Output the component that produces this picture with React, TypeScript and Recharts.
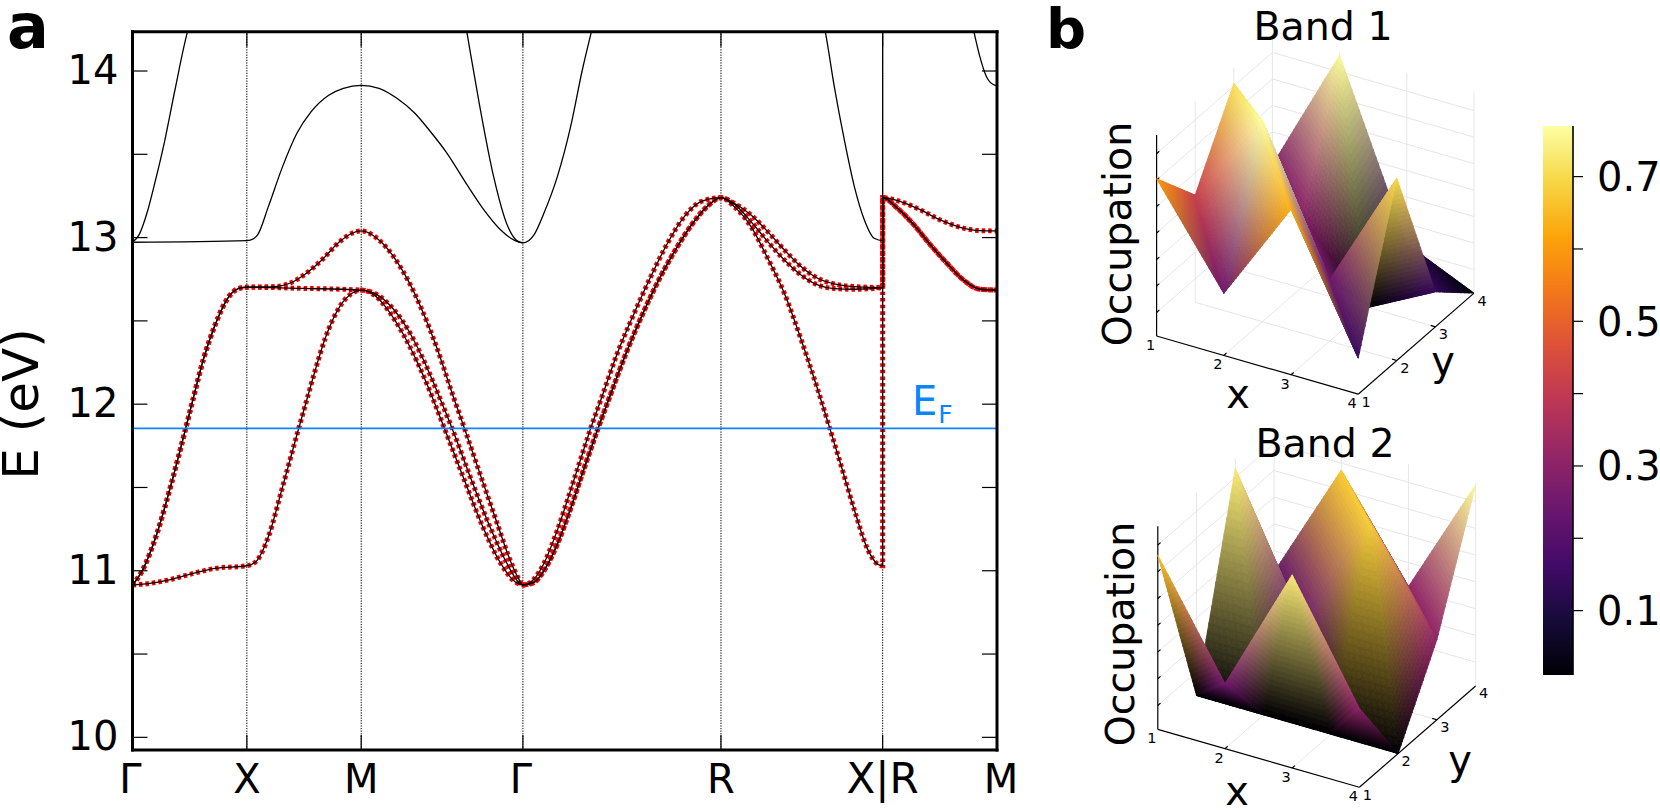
import React from "react";
import { ComposedChart, Line, Scatter, Bar, XAxis, YAxis, ReferenceLine } from "recharts";

const FONT = "'DejaVu Sans', sans-serif";
const BLUE = "#0a84ff";
const kNodes = [0, 1, 2, 3.414, 5.146, 6.56, 7.56];
const kLabels = ["Γ", "X", "M", "Γ", "R", "X|R", "M"];
const energyTicks = [10, 10.5, 11, 11.5, 12, 12.5, 13, 13.5, 14];
const fermiEnergy = 11.855;
const energyDomain = [9.924, 14.236];

const along = (seg: number, rows: number[][]) =>
  rows.map(([t, E]) => ({ k: kNodes[seg] + t * (kNodes[seg + 1] - kNodes[seg]), E }));

const gxLow = [[0, 10.914], [0.15, 10.924], [0.31, 10.944], [0.53, 10.984], [0.72, 11.014], [1, 11.03]];
const gxHigh = [[0, 10.914], [0.088, 11.004], [0.214, 11.224], [0.34, 11.524], [0.465, 11.854], [0.528, 12.026], [0.623, 12.276], [0.717, 12.466], [0.843, 12.646], [0.937, 12.696], [1, 12.702]];
const xmA = [[0.078, 11.054], [0.188, 11.204], [0.3125, 11.504], [0.453, 11.854], [0.53, 12.04], [0.594, 12.195], [0.6875, 12.4], [0.8125, 12.586], [0.92, 12.666], [1, 12.685]];
const xmB = [[0.5, 12.695], [1, 12.685]];
const xmC = [[0.25, 12.706], [0.375, 12.726], [0.5, 12.776], [0.656, 12.866], [0.8125, 12.976], [0.92, 13.026], [1, 13.04]];
const mgA = [[0.088, 12.65], [0.166, 12.565], [0.254, 12.43], [0.343, 12.26], [0.409, 12.115], [0.442, 12.036], [0.515, 11.854], [0.642, 11.534], [0.752, 11.264], [0.863, 11.044], [0.951, 10.934], [1, 10.915]];
const mgB = [[0.1, 12.656], [0.2, 12.57], [0.288, 12.45], [0.376, 12.285], [0.442, 12.14], [0.491, 12.025], [0.564, 11.85], [0.686, 11.534], [0.796, 11.264], [0.896, 11.054], [0.962, 10.944], [1, 10.915]];
const mgC = [[0.11, 12.986], [0.2, 12.886], [0.288, 12.746], [0.376, 12.566], [0.465, 12.346], [0.575, 12.03], [0.635, 11.865], [0.741, 11.564], [0.841, 11.284], [0.929, 11.044], [0.973, 10.954], [1, 10.915]];
const grLeft = [[0.056, 10.95], [0.106, 11.044], [0.174, 11.244], [0.241, 11.484], [0.309, 11.734], [0.342, 11.854], [0.393, 12.024], [0.477, 12.306], [0.562, 12.546], [0.646, 12.766], [0.73, 12.966], [0.815, 13.126], [0.899, 13.216], [1, 13.24]];
const grRight = [[0.056, 10.93], [0.106, 11.0], [0.174, 11.16], [0.241, 11.374], [0.309, 11.614], [0.379, 11.854], [0.435, 12.034], [0.519, 12.3], [0.604, 12.54], [0.688, 12.75], [0.772, 12.93], [0.857, 13.085], [0.933, 13.19], [1, 13.24]];
const rxA = [[0.082, 13.186], [0.186, 13.066], [0.289, 12.876], [0.392, 12.666], [0.495, 12.39], [0.598, 12.09], [0.67, 11.865], [0.742, 11.635], [0.825, 11.365], [0.907, 11.13], [0.969, 11.04], [1, 11.03]];
const rxB = [[0.082, 13.202], [0.186, 13.096], [0.289, 12.976], [0.392, 12.866], [0.495, 12.776], [0.598, 12.716], [0.701, 12.694], [0.825, 12.69], [1, 12.7]];
const rxC = [[0.082, 13.206], [0.186, 13.136], [0.289, 13.036], [0.392, 12.926], [0.495, 12.826], [0.598, 12.756], [0.701, 12.722], [0.825, 12.706], [1, 12.7]];
const rmLow = [[0, 13.24], [0.13, 13.176], [0.274, 13.076], [0.418, 12.956], [0.562, 12.846], [0.706, 12.746], [0.85, 12.69], [1, 12.685]];
const rmHigh = [[0, 13.24], [0.158, 13.216], [0.331, 13.166], [0.504, 13.106], [0.677, 13.062], [0.85, 13.042], [1, 13.04]];

const upperGX = [[0, 12.972], [1, 12.982]];
const upperXM = [[0.03, 12.985], [0.094, 13.016], [0.188, 13.186], [0.3125, 13.426], [0.4375, 13.626], [0.5625, 13.756], [0.719, 13.856], [0.844, 13.896], [1, 13.914]];
const upperMG = [[0.11, 13.896], [0.221, 13.836], [0.332, 13.746], [0.42, 13.646], [0.531, 13.506], [0.642, 13.336], [0.752, 13.176], [0.863, 13.046], [0.951, 12.982], [1, 12.968]];
const upperGR = [[0.056, 13.016], [0.106, 13.146], [0.174, 13.366], [0.241, 13.666], [0.3, 14.006], [0.346, 14.236], [0.385, 14.426]];
const upperRX = [[0.6, 14.426], [0.645, 14.236], [0.701, 13.906], [0.763, 13.586], [0.825, 13.306], [0.887, 13.106], [0.948, 12.996], [1, 12.982]];
const upperRM = [[0.74, 14.426], [0.798, 14.236], [0.85, 14.086], [0.908, 13.966], [0.98, 13.916], [1, 13.914]];
const steepGX = [[0, 12.972], [0.057, 13.016], [0.126, 13.146], [0.198, 13.336], [0.277, 13.566], [0.371, 13.886], [0.481, 14.236], [0.544, 14.376]];
const steepMG = [[0.63, 14.366], [0.653, 14.236], [0.73, 13.806], [0.819, 13.366], [0.907, 13.066], [0.962, 12.982], [1, 12.968]];

const bandA = [...along(0, gxLow), ...along(1, xmA), ...along(2, mgA), ...along(3, grLeft), ...along(4, rxA), ...along(5, rmLow)];
const bandB = [...along(0, gxHigh), ...along(1, xmB), ...along(2, mgB), ...along(3, grRight), ...along(4, rxB), ...along(5, rmLow)];
const bandC = [...along(0, gxHigh), ...along(1, xmC), ...along(2, mgC), ...along(3, grRight), ...along(4, rxC), ...along(5, rmHigh)];
const redBands = [bandA, bandB, bandC];
const blackBands = [
  bandA, bandB, bandC,
  [...along(0, upperGX), ...along(1, upperXM), ...along(2, upperMG), ...along(3, upperGR)],
  [...along(4, upperRX), { k: kNodes[5], E: 14.426 }],
  along(5, upperRM),
  along(0, steepGX),
  along(2, steepMG),
];

// Occupation on the 4x4 grid: rows y = 1..4, columns x = 1..4
const band1Occupation = [
  [0.605, 0.245, 0.635, 0.147],
  [0.416, 0.771, 0.242, 0.7],
  [0.71, 0.294, 0.011, 0.143],
  [0.276, 0.763, 0.124, 0.011],
];
const band2Occupation = [
  [0.662, 0.254, 0.733, 0.306],
  [0.011, 0.011, 0.011, 0.011],
  [0.733, 0.232, 0.68, 0.31],
  [0.22, 0.673, 0.31, 0.763],
];
const gridTicks = [1, 2, 3, 4];
const occupationTicks = [0.1, 0.2, 0.3, 0.4, 0.5, 0.6, 0.7];
const occupationRange = [0.011, 0.77];
const colorbarRows = [{ name: "Occupation", range: occupationRange }];
const inferno = [
  [0, 0, 4], [22, 11, 57], [66, 10, 104], [106, 23, 110], [147, 38, 103], [188, 55, 84],
  [221, 81, 58], [243, 120, 25], [252, 165, 10], [246, 215, 70], [252, 255, 164],
];

const normalise = (z: number) => (z - occupationRange[0]) / (occupationRange[1] - occupationRange[0]);
const infernoAt = (z: number) => {
  const t = Math.min(0.9999, Math.max(0, normalise(z))) * 10;
  const i = Math.floor(t);
  const f = t - i;
  return inferno[i].map((c, n) => c + (inferno[i + 1][n] - c) * f);
};

type View = { left: number; top: number; width: number; height: number; ox: number; oy: number; ex: number[]; ey: number[]; span: number };
const view1: View = { left: 1100, top: 0, width: 400, height: 420, ox: 1156.6, oy: 336, ex: [67.2, 19.4], ey: [38.6, -33.7], span: 201 };
const view2: View = { left: 1100, top: 420, width: 400, height: 392, ox: 1157.8, oy: 729.3, ex: [67.2, 19.33], ey: [38.75, -33.77], span: 203 };

function Surface({ view, grid }: { view: View; grid: number[][] }) {
  const p = (x: number, y: number, z: number) => ({
    u: view.ox - view.left + view.ex[0] * (x - 1) + view.ey[0] * (y - 1),
    v: view.top + view.height - view.oy - view.ex[1] * (x - 1) - view.ey[1] * (y - 1) + normalise(z) * view.span,
  });
  const zLow = occupationRange[0];
  const zHigh = occupationRange[1];
  const gray: { u: number; v: number }[][] = [];
  occupationTicks.forEach((z) => gray.push([p(1, 1, z), p(1, 4, z), p(4, 4, z)]));
  [2, 3, 4].forEach((y) => gray.push([p(1, y, zLow), p(1, y, zHigh)]));
  [2, 3, 4].forEach((x) => gray.push([p(x, 4, zLow), p(x, 4, zHigh)]));
  [2, 3].forEach((x) => gray.push([p(x, 1, zLow), p(x, 4, zLow)]));
  [2, 3].forEach((y) => gray.push([p(1, y, zLow), p(4, y, zLow)]));
  const black: { u: number; v: number }[][] = [
    [p(1, 1, zLow), p(4, 1, zLow)],
    [p(4, 1, zLow), p(4, 4, zLow)],
    [p(1, 1, zLow), p(1, 1, zHigh)],
  ];
  [2, 3].forEach((t) => {
    black.push([p(t, 1, zLow), p(t, 1.07, zLow)]);
    black.push([p(4, t, zLow), p(3.93, t, zLow)]);
  });
  occupationTicks.forEach((z) => black.push([p(1, 1, z), p(1, 1.07, z)]));

  const vertices: any[] = [];
  grid.forEach((row, j) => row.forEach((z, i) => vertices.push({ ...p(i + 1, j + 1, z), i, j, z })));
  const labels: any[] = [];
  gridTicks.forEach((t) => labels.push({ ...p(t, 1, zLow), text: String(t), dx: -6, dy: 9 }));
  gridTicks.forEach((t) => labels.push({ ...p(4, t, zLow), text: String(t), dx: 8, dy: 7.5 }));

  const seen: Record<string, { x: number; y: number }> = {};
  const drawMesh = (props: any) => {
    const d = props.payload;
    seen[d.i + "," + d.j] = { x: props.cx, y: props.cy };
    if (d.i !== 3 || d.j !== 3) return <g />;
    const tris: { ids: number[][]; depth: number }[] = [];
    const score = (a: number[]) => 0.431 * a[0] - 0.75 * a[1] + (0.5 * normalise(grid[a[1]][a[0]]) * view.span) / 67;
    for (let j = 0; j < 3; j++)
      for (let i = 0; i < 3; i++) {
        const t1 = [[i, j], [i + 1, j], [i, j + 1]];
        const t2 = [[i + 1, j], [i + 1, j + 1], [i, j + 1]];
        [t1, t2].forEach((ids) => tris.push({ ids, depth: ids.reduce((s, a) => s + score(a), 0) }));
      }
    tris.sort((a, b) => a.depth - b.depth);
    const n = 28;
    const polys: React.ReactNode[] = [];
    tris.forEach((tri, ti) => {
      const P = tri.ids.map(([i, j]) => seen[i + "," + j]);
      const C = tri.ids.map(([i, j]) => infernoAt(grid[j][i]));
      const at = (a: number, b: number) => {
        const c = n - a - b;
        return { x: (P[0].x * c + P[1].x * a + P[2].x * b) / n, y: (P[0].y * c + P[1].y * a + P[2].y * b) / n };
      };
      const fill = (a: number, b: number) => {
        const c = n - a - b;
        return `rgb(${[0, 1, 2].map((m) => Math.round((C[0][m] * c + C[1][m] * a + C[2][m] * b) / n)).join(",")})`;
      };
      const add = (key: string, pts: { x: number; y: number }[], col: string) =>
        polys.push(<polygon key={key} points={pts.map((q) => `${q.x.toFixed(1)},${q.y.toFixed(1)}`).join(" ")} fill={col} stroke={col} strokeWidth={0.8} />);
      for (let a = 0; a < n; a++)
        for (let b = 0; b < n - a; b++) {
          add(`${ti}u${a}-${b}`, [at(a, b), at(a + 1, b), at(a, b + 1)], fill(a + 1 / 3, b + 1 / 3));
          if (a + b < n - 1) add(`${ti}d${a}-${b}`, [at(a + 1, b), at(a + 1, b + 1), at(a, b + 1)], fill(a + 2 / 3, b + 2 / 3));
        }
    });
    return <g>{polys}</g>;
  };
  const drawLabel = (props: any) => (
    <text x={props.cx + props.payload.dx} y={props.cy + props.payload.dy} fontSize={14.5} fontFamily={FONT} textAnchor="middle" dominantBaseline="central" fill="#000">
      {props.payload.text}
    </text>
  );

  return (
    <div style={{ position: "absolute", left: view.left, top: view.top }}>
      <ComposedChart width={view.width} height={view.height} margin={{ top: 0, right: 0, bottom: 0, left: 0 }}>
        <XAxis dataKey="u" type="number" domain={[0, view.width]} hide />
        <YAxis dataKey="v" type="number" domain={[0, view.height]} hide />
        {gray.map((d, i) => (
          <Line key={"g" + i} data={d} dataKey="v" type="linear" stroke="#e6e6e6" strokeWidth={1} dot={false} isAnimationActive={false} />
        ))}
        <Scatter data={vertices} dataKey="v" shape={drawMesh} isAnimationActive={false} />
        {black.map((d, i) => (
          <Line key={"b" + i} data={d} dataKey="v" type="linear" stroke="#000" strokeWidth={1.2} dot={false} isAnimationActive={false} />
        ))}
        <Scatter data={labels} dataKey="v" shape={drawLabel} isAnimationActive={false} />
      </ComposedChart>
    </div>
  );
}

const XTick = (props: any) => {
  const { x, y, payload, mirrored } = props;
  const i = kNodes.indexOf(payload.value);
  if (mirrored) return <line x1={x} x2={x} y1={y} y2={y + 15} stroke="#000" strokeWidth={1.2} />;
  const nudge = i === 6 ? 4 : kLabels[i] === "Γ" ? -2 : 0;
  return (
    <g>
      <line x1={x} x2={x} y1={y} y2={y - 15} stroke="#000" strokeWidth={1.2} />
      <text x={x + nudge} y={y + 43} textAnchor="middle" fontSize={kLabels[i] === "X|R" ? 42 : 40} fontFamily={FONT} fill="#000">
        {kLabels[i]}
      </text>
    </g>
  );
};
const YTick = (props: any) => {
  const { x, y, payload, mirrored } = props;
  if (mirrored) return <line x1={x} x2={x - 15} y1={y} y2={y} stroke="#000" strokeWidth={1.2} />;
  return (
    <g>
      <line x1={x} x2={x + 15} y1={y} y2={y} stroke="#000" strokeWidth={1.2} />
      {Number.isInteger(payload.value) && (
        <text x={x - 14} y={y + 13} textAnchor="end" fontSize={40} fontFamily={FONT} fill="#000">
          {payload.value}
        </text>
      )}
    </g>
  );
};
const BarTick = (props: any) => {
  const { x, y, payload } = props;
  const odd = [0.1, 0.3, 0.5, 0.7].includes(payload.value);
  return (
    <g>
      <line x1={x} x2={x + 10} y1={y} y2={y} stroke="#000" strokeWidth={1.2} />
      {odd && (
        <text x={x + 24} y={y + 14.5} fontSize={40} fontFamily={FONT} fill="#000">
          {payload.value}
        </text>
      )}
    </g>
  );
};

const spine = { stroke: "#000", strokeWidth: 3, strokeLinecap: "square" as const };

export default function App() {
  return (
    <div style={{ position: "absolute", left: 0, top: 0, width: 1660, height: 812, background: "#fff", overflow: "hidden" }}>
      <div style={{ position: "absolute", left: 0, top: 0 }}>
        <ComposedChart width={1040} height={812} margin={{ top: 30.7, left: 131.5, right: 42, bottom: 61 }}>
          <XAxis xAxisId="b" dataKey="k" type="number" domain={[0, 7.56]} ticks={kNodes} interval={0} height={1} tickSize={0} tickMargin={0} axisLine={spine} tickLine={false} tick={<XTick />} allowDataOverflow />
          <XAxis xAxisId="t" orientation="top" dataKey="k" type="number" domain={[0, 7.56]} ticks={kNodes} interval={0} height={1} tickSize={0} tickMargin={0} axisLine={spine} tickLine={false} tick={<XTick mirrored />} allowDataOverflow />
          <YAxis yAxisId="l" type="number" domain={energyDomain} ticks={energyTicks} interval={0} width={1} tickSize={0} tickMargin={0} axisLine={spine} tickLine={false} tick={<YTick />} allowDataOverflow />
          <YAxis yAxisId="r" orientation="right" type="number" domain={energyDomain} ticks={energyTicks} interval={0} width={1} tickSize={0} tickMargin={0} axisLine={spine} tickLine={false} tick={<YTick mirrored />} allowDataOverflow />
          {kNodes.slice(1, 6).map((k) => (
            <ReferenceLine key={k} xAxisId="b" yAxisId="l" x={k} stroke="#000" strokeWidth={1} strokeDasharray="1.3 1.3" />
          ))}
          {redBands.map((d, i) => (
            <Line key={"r" + i} xAxisId="b" yAxisId="l" data={d} dataKey="E" type="monotone" stroke="#f00000" strokeWidth={5} strokeDasharray="3.5 3" dot={false} isAnimationActive={false} />
          ))}
          {blackBands.map((d, i) => (
            <Line key={"k" + i} xAxisId="b" yAxisId="l" data={d} dataKey="E" type="monotone" stroke="#000" strokeWidth={1.3} dot={false} isAnimationActive={false} />
          ))}
          <ReferenceLine xAxisId="b" yAxisId="l" y={fermiEnergy} stroke={BLUE} strokeWidth={1.8} />
        </ComposedChart>
      </div>

      <Surface view={view1} grid={band1Occupation} />
      <Surface view={view2} grid={band2Occupation} />

      <div style={{ position: "absolute", left: 1500, top: 0 }}>
        <ComposedChart width={160} height={812} data={colorbarRows} barCategoryGap={0} margin={{ top: 126, left: 43, right: 86, bottom: 137 }}>
          <defs>
            <linearGradient id="infernoScale" x1="0" y1="1" x2="0" y2="0">
              {inferno.map((c, i) => (
                <stop key={i} offset={i / 10} stopColor={`rgb(${c.join(",")})`} />
              ))}
            </linearGradient>
          </defs>
          <XAxis dataKey="name" hide />
          <YAxis orientation="right" type="number" domain={occupationRange} ticks={occupationTicks} interval={0} width={1} tickSize={0} tickMargin={0} axisLine={{ stroke: "#000", strokeWidth: 1.6 }} tickLine={false} tick={<BarTick />} allowDataOverflow />
          <Bar dataKey="range" fill="url(#infernoScale)" isAnimationActive={false} />
        </ComposedChart>
      </div>

      <svg width={1660} height={812} style={{ position: "absolute", left: 0, top: 0, pointerEvents: "none" }} fontFamily={FONT}>
        <text x={7} y={48} fontSize={62} fontWeight="bold">a</text>
        <text x={1046} y={48} fontSize={56} fontWeight="bold">b</text>
        <text transform="translate(37.5,404) rotate(-90)" textAnchor="middle" fontSize={50}>E (eV)</text>
        <text x={912} y={415} fontSize={40} fill={BLUE}>E<tspan fontSize={25} dy={8} dx={1}>F</tspan></text>
        <text x={1323} y={40} textAnchor="middle" fontSize={39.5}>Band 1</text>
        <text x={1325} y={457} textAnchor="middle" fontSize={39.5}>Band 2</text>
        <text transform="translate(1131,234) rotate(-90)" textAnchor="middle" fontSize={39.5}>Occupation</text>
        <text transform="translate(1134,634) rotate(-90)" textAnchor="middle" fontSize={39.5}>Occupation</text>
        <text x={1238} y={408} textAnchor="middle" fontSize={40}>x</text>
        <text x={1443} y={375} textAnchor="middle" fontSize={40}>y</text>
        <text x={1237} y={805} textAnchor="middle" fontSize={40}>x</text>
        <text x={1460} y={774} textAnchor="middle" fontSize={40}>y</text>
      </svg>
    </div>
  );
}
